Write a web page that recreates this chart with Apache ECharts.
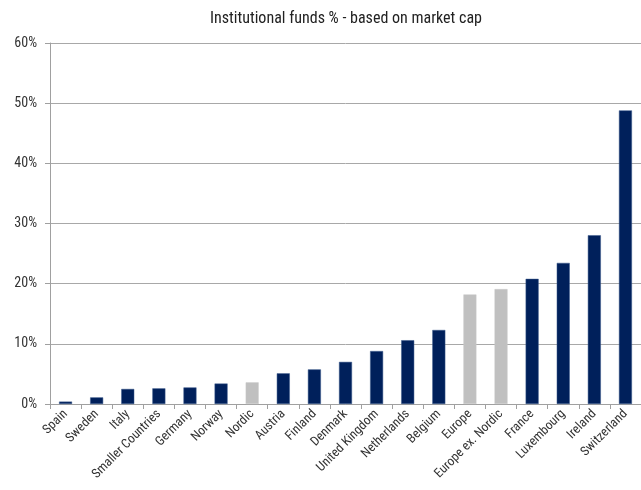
<!DOCTYPE html>
<html>
<head>
<meta charset="utf-8">
<script src="https://cdn.jsdelivr.net/npm/echarts@6/dist/echarts.min.js"></script>
<style>
  html, body { margin: 0; padding: 0; background: #fff; }
  #chart { width: 641px; height: 490px; }
</style>
</head>
<body>
<div id="chart"></div>
<script>
// Share of institutional funds by market, based on market cap (%)
const categories = [
  'Spain', 'Sweden', 'Italy', 'Smaller Countries', 'Germany', 'Norway', 'Nordic',
  'Austria', 'Finland', 'Denmark', 'United Kingdom', 'Netherlands', 'Belgium',
  'Europe', 'Europe ex. Nordic', 'France', 'Luxembourg', 'Ireland', 'Switzerland'
];
const values = [
  0.4, 1.1, 2.5, 2.6, 2.75, 3.4, 3.6,
  5.1, 5.75, 7.0, 8.8, 10.6, 12.3,
  18.2, 19.1, 20.8, 23.45, 28.05, 48.8
];
// Aggregate regions are drawn in grey
const aggregates = ['Nordic', 'Europe', 'Europe ex. Nordic'];
const yTicks = [0, 10, 20, 30, 40, 50, 60];

const NAVY = '#00205B';
const GREY = '#C0C0C0';
const FONT = '"Liberation Sans Narrow", "Roboto Condensed", "Liberation Sans", sans-serif';

const chart = echarts.init(document.getElementById('chart'), null, { renderer: 'canvas' });

chart.setOption({
  animation: false,
  title: {
    text: 'Institutional funds % - based on market cap',
    left: 341,
    textAlign: 'center',
    top: 6,
    textStyle: { fontFamily: FONT, fontSize: 16, fontWeight: 'normal', color: '#222' }
  },
  grid: { left: 50, top: 43, width: 599, bottom: 86, containLabel: false },
  xAxis: {
    type: 'category',
    data: categories,
    axisLine: { show: true, lineStyle: { color: '#a0a0a0', width: 1 } },
    axisTick: { show: true, alignWithLabel: false, length: 5, lineStyle: { color: '#a0a0a0' } },
    axisLabel: {
      interval: 0,
      rotate: 45,
      margin: 8,
      fontFamily: FONT,
      fontSize: 13,
      color: '#333'
    }
  },
  yAxis: {
    type: 'value',
    min: yTicks[0],
    max: yTicks[yTicks.length - 1],
    interval: 10,
    axisLine: { show: true, lineStyle: { color: '#a0a0a0', width: 1 } },
    axisTick: { show: true, length: 5, lineStyle: { color: '#a0a0a0' } },
    splitLine: { show: true, lineStyle: { color: '#a8a8a8', width: 1 } },
    axisLabel: {
      formatter: v => v + '%',
      margin: 13,
      fontFamily: FONT,
      fontSize: 14,
      color: '#333'
    }
  },
  series: [{
    type: 'bar',
    barWidth: 13,
    data: values.map((v, i) => ({
      value: v,
      itemStyle: {
        color: aggregates.includes(categories[i]) ? GREY : NAVY,
        borderColor: aggregates.includes(categories[i]) ? '#c8c8c8' : '#3a5a8c',
        borderWidth: 0.5
      }
    }))
  }]
});
</script>
</body>
</html>
